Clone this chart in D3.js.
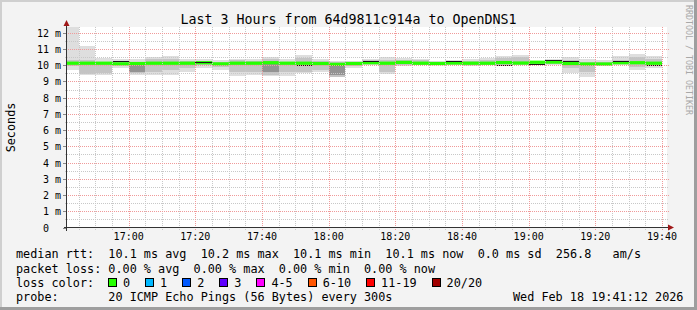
<!DOCTYPE html>
<html>
<head>
<meta charset="utf-8">
<script src="https://cdn.jsdelivr.net/npm/d3@7"></script>
<style>
body { margin: 0; background: #f3f3f3; }
svg { display: block; font-family: "DejaVu Sans Mono", monospace; }
</style>
</head>
<body>
<div id="chart"></div>
<script>

// ---- data (milliseconds), one entry per 5 minute step, labelled by step end ----
var stepEnds = ["16:45","16:50","16:55","17:00","17:05","17:10","17:15","17:20","17:25","17:30","17:35","17:40",
                "17:45","17:50","17:55","18:00","18:05","18:10","18:15","18:20","18:25","18:30","18:35","18:40",
                "18:45","18:50","18:55","19:00","19:05","19:10","19:15","19:20","19:25","19:30","19:35","19:40"];

var medianMs = [10.12,10.12,10.12,10.08,10.10,10.12,10.12,10.12,10.15,10.08,10.12,10.12,
                10.15,10.12,10.12,10.10,10.05,10.10,10.15,10.12,10.17,10.12,10.10,10.13,
                10.12,10.12,10.16,10.13,10.18,10.19,10.10,10.07,10.07,10.15,10.15,10.12];

var smokeMax = [12.40,11.17,10.45,10.35,10.38,10.50,10.55,10.35,10.38,10.30,10.40,10.35,
                10.52,10.35,10.60,10.38,10.28,10.28,10.38,10.50,10.45,10.35,10.25,10.30,
                10.35,10.45,10.55,10.65,10.27,10.37,10.50,10.37,10.30,10.55,10.67,10.55];

var smokeMin = [9.70,9.40,9.40,9.85,9.40,9.40,9.40,9.60,9.85,9.72,9.35,9.40,
                9.32,9.35,9.52,9.56,9.25,9.80,10.02,9.45,9.96,9.98,10.00,10.00,
                9.95,9.98,9.98,9.98,10.00,10.04,9.53,9.28,9.94,10.04,9.70,9.80];

var midHi = [10.33,10.33,10.20,10.20,10.20,10.40,10.35,10.25,10.25,10.22,10.30,10.28,
             10.38,10.20,10.42,10.28,10.20,10.20,10.30,10.32,10.30,10.30,10.20,10.25,
             10.25,10.30,10.42,10.50,10.22,10.30,10.30,10.22,10.20,10.30,10.50,10.35];

var midLo = [9.95,9.45,9.50,10.00,9.50,9.60,9.70,9.85,10.00,9.90,9.60,9.60,
             9.40,9.60,9.60,9.70,9.30,9.95,10.05,9.55,10.02,10.02,10.02,10.05,
             10.00,10.03,10.03,10.04,10.05,10.08,9.80,9.60,10.00,10.08,9.90,9.95];

var coreHi = [null,null,null,null,10.00,null,null,null,null,null,null,null,
              10.05,null,null,null,10.00,null,null,null,null,null,null,null,
              null,null,null,null,null,null,null,null,null,null,null,null];
var coreLo = [null,null,null,null,9.60,null,null,null,null,null,null,null,
              9.55,null,null,null,9.40,null,null,null,null,null,null,null,
              null,null,null,null,null,null,null,null,null,null,null,null];

var darkLine = [null,null,null,10.23,null,null,null,null,10.22,null,null,null,
                null,null,9.99,null,null,null,10.26,null,null,null,null,10.27,
                null,null,10.04,null,10.07,10.30,10.24,null,null,10.25,null,10.03];

var lossLabels = ["0","1","2","3","4-5","6-10","11-19","20/20"];
var lossColors = ["#26ff00","#00b8ff","#0059ff","#5e00ff","#ff00ff","#ff5500","#ff0000","#a10000"];

var legendLines = [
    "median rtt:  10.1 ms avg  10.2 ms max  10.1 ms min  10.1 ms now  0.0 ms sd  256.8   am/s",
    "packet loss: 0.00 % avg  0.00 % max  0.00 % min  0.00 % now",
    "loss color:",
    "probe:       20 ICMP Echo Pings (56 Bytes) every 300s"
];
var stampText = "Wed Feb 18 19:41:12 2026";
var titleText = "Last 3 Hours from 64d9811c914a to OpenDNS1";

// ---- layout ----
var W = 697, H = 310;
var cLeft = 67, cRight = 667, cTop = 27, cBottom = 228;

var parseT = d3.timeParse("%Y-%m-%d %H:%M:%S");
var day = "2026-02-18 ";

var svg = d3.select("#chart").append("svg")
    .attr("width", W)
    .attr("height", H);

// background + frame
svg.append("rect").attr("width", W).attr("height", H).attr("fill", "#f3f3f3");
svg.append("rect").attr("x", 0).attr("y", 0).attr("width", W).attr("height", 2).attr("fill", "#cfcfcf");
svg.append("rect").attr("x", 0).attr("y", 0).attr("width", 2).attr("height", H).attr("fill", "#cfcfcf");
svg.append("rect").attr("x", 0).attr("y", H - 3).attr("width", W).attr("height", 3).attr("fill", "#9e9e9e");
svg.append("rect").attr("x", W - 3).attr("y", 0).attr("width", 3).attr("height", H).attr("fill", "#9e9e9e");

// scales
var x = d3.scaleTime()
    .domain([parseT(day + "16:41:30"), parseT(day + "19:41:30")])
    .range([cLeft, cRight]);

var y = d3.scaleLinear()
    .domain([0, 12.35])
    .range([cBottom - 0.5, cTop]);

// canvas
svg.append("rect")
    .attr("x", cLeft).attr("y", cTop)
    .attr("width", cRight - cLeft).attr("height", cBottom - cTop)
    .attr("fill", "#ffffff");

svg.append("clipPath").attr("id", "canvas-clip")
    .append("rect")
    .attr("x", cLeft).attr("y", cTop)
    .attr("width", cRight - cLeft).attr("height", cBottom - cTop);

var plot = svg.append("g").attr("clip-path", "url(#canvas-clip)");

var bars = stepEnds.map(function(s, i) {
    var t1 = parseT(day + s + ":00");
    var t0 = d3.timeMinute.offset(t1, -5);
    return { i: i, x0: Math.max(x(t0), cLeft), x1: x(t1) };
});

function band(cls, lo, hi, color) {
    plot.selectAll("rect." + cls)
        .data(bars.filter(function(b) { return lo[b.i] != null; }))
        .enter().append("rect")
        .attr("class", cls)
        .attr("x", function(b) { return b.x0; })
        .attr("width", function(b) { return b.x1 - b.x0; })
        .attr("y", function(b) { return y(hi[b.i]); })
        .attr("height", function(b) { return y(lo[b.i]) - y(hi[b.i]); })
        .attr("fill", color)
        .attr("shape-rendering", "crispEdges");
}

// smoke
band("smoke-outer", smokeMin, smokeMax, "#dedede");
band("smoke-mid", midLo, midHi, "#c4c4c4");
band("smoke-core", coreLo, coreHi, "#939393");

// grid
var grid = svg.append("g").attr("shape-rendering", "crispEdges");

var minorTimes = x.ticks(d3.timeMinute.every(5));
var majorTimes = x.ticks(d3.timeMinute.every(20));
var minorVals = d3.range(0.5, 12.35, 1);
var majorVals = d3.range(1, 12.35, 1);

grid.selectAll("line.vminor")
    .data(minorTimes.filter(function(t) { return t.getMinutes() % 20 != 0; }))
    .enter().append("line")
    .attr("class", "vminor")
    .attr("x1", function(t) { return Math.round(x(t)) + 0.5; })
    .attr("x2", function(t) { return Math.round(x(t)) + 0.5; })
    .attr("y1", cTop).attr("y2", cBottom + 2)
    .attr("stroke", "#c8c8c8")
    .attr("stroke-dasharray", "1,1");

grid.selectAll("line.hminor")
    .data(minorVals)
    .enter().append("line")
    .attr("class", "hminor")
    .attr("x1", cLeft - 2).attr("x2", cRight + 2)
    .attr("y1", function(v) { return Math.round(y(v)) + 0.5; })
    .attr("y2", function(v) { return Math.round(y(v)) + 0.5; })
    .attr("stroke", "#c8c8c8")
    .attr("stroke-dasharray", "1,1");

grid.selectAll("line.vmajor")
    .data(majorTimes)
    .enter().append("line")
    .attr("class", "vmajor")
    .attr("x1", function(t) { return Math.round(x(t)) + 0.5; })
    .attr("x2", function(t) { return Math.round(x(t)) + 0.5; })
    .attr("y1", cTop).attr("y2", cBottom + 2)
    .attr("stroke", "#f09a9a")
    .attr("stroke-dasharray", "1,1");

grid.selectAll("line.hmajor")
    .data(majorVals)
    .enter().append("line")
    .attr("class", "hmajor")
    .attr("x1", cLeft - 3).attr("x2", cRight + 2)
    .attr("y1", function(v) { return Math.round(y(v)) + 0.5; })
    .attr("y2", function(v) { return Math.round(y(v)) + 0.5; })
    .attr("stroke", "#f09a9a")
    .attr("stroke-dasharray", "1,1");

// y ticks left of axis
grid.selectAll("line.ytick")
    .data(d3.range(0, 13, 1))
    .enter().append("line")
    .attr("class", "ytick")
    .attr("x1", cLeft - 4).attr("x2", cLeft - 1)
    .attr("y1", function(v) { return Math.round(y(v)) + 0.5; })
    .attr("y2", function(v) { return Math.round(y(v)) + 0.5; })
    .attr("stroke", "#888");

// median line coloured by loss (0 loss -> green)
plot.selectAll("rect.median")
    .data(bars)
    .enter().append("rect")
    .attr("class", "median")
    .attr("x", function(b) { return b.x0; })
    .attr("width", function(b) { return b.x1 - b.x0; })
    .attr("y", function(b) { return y(medianMs[b.i] + 0.1); })
    .attr("height", function(b) { return y(medianMs[b.i] - 0.1) - y(medianMs[b.i] + 0.1); })
    .attr("fill", lossColors[0]);

plot.selectAll("rect.dark")
    .data(bars.filter(function(b) { return darkLine[b.i] != null; }))
    .enter().append("rect")
    .attr("class", "dark")
    .attr("x", function(b) { return b.x0; })
    .attr("width", function(b) { return b.x1 - b.x0; })
    .attr("y", function(b) { return Math.round(y(darkLine[b.i])); })
    .attr("height", 1)
    .attr("fill", "#1a1a1a")
    .attr("shape-rendering", "crispEdges");

// axes
var axes = svg.append("g").attr("shape-rendering", "crispEdges");
axes.append("line")
    .attr("x1", cLeft - 3).attr("x2", cRight + 3)
    .attr("y1", cBottom - 0.5).attr("y2", cBottom - 0.5)
    .attr("stroke", "#333");
axes.append("line")
    .attr("x1", cLeft - 0.5).attr("x2", cLeft - 0.5)
    .attr("y1", cBottom + 3).attr("y2", cTop - 1)
    .attr("stroke", "#333");

svg.append("path")
    .attr("d", "M" + (cRight + 1) + "," + (cBottom - 3.5) + "L" + (cRight + 7) + "," + (cBottom - 0.5) + "L" + (cRight + 1) + "," + (cBottom + 2.5) + "Z")
    .attr("fill", "#a01818");
svg.append("path")
    .attr("d", "M" + (cLeft - 3.5) + "," + (cTop - 1) + "L" + (cLeft - 0.5) + "," + (cTop - 7) + "L" + (cLeft + 2.5) + "," + (cTop - 1) + "Z")
    .attr("fill", "#a01818");

// axis labels
svg.selectAll("text.ylab")
    .data(d3.range(0, 13, 1))
    .enter().append("text")
    .attr("class", "ylab")
    .attr("x", cLeft - 6)
    .attr("y", function(v) { return Math.round(y(v)) + 4; })
    .attr("text-anchor", "end")
    .style("white-space", "pre")
    .attr("font-size", "10px")
    .attr("fill", "#000")
    .text(function(v) { return v == 0 ? "0  " : v + " m"; });

svg.selectAll("text.xlab")
    .data(majorTimes)
    .enter().append("text")
    .attr("class", "xlab")
    .attr("x", function(t) { return x(t); })
    .attr("y", 240)
    .attr("text-anchor", "middle")
    .attr("font-size", "10px")
    .attr("fill", "#000")
    .text(d3.timeFormat("%H:%M"));

svg.append("text")
    .attr("transform", "translate(15," + ((cTop + cBottom) / 2) + ") rotate(-90)")
    .attr("text-anchor", "middle")
    .attr("font-size", "11.8px")
    .attr("fill", "#000")
    .text("Seconds");

svg.append("text")
    .attr("x", W / 2)
    .attr("y", 24)
    .attr("text-anchor", "middle")
    .attr("font-size", "13.3px")
    .attr("fill", "#000")
    .text(titleText);

svg.append("text")
    .attr("transform", "translate(685.5,5) rotate(90)")
    .attr("font-size", "8.3px")
    .attr("fill", "#a8a8a8")
    .text("RRDTOOL / TOBI OETIKER");

// legend
var charW = 7.1;
var lineY = [258.3, 272.5, 286.7, 300.8];
svg.selectAll("text.legend")
    .data(legendLines)
    .enter().append("text")
    .attr("class", "legend")
    .attr("x", 16)
    .attr("y", function(d, i) { return lineY[i]; })
    .style("white-space", "pre")
    .attr("font-size", "11.8px")
    .attr("fill", "#000")
    .text(function(d) { return d; });

svg.append("text")
    .attr("x", 513)
    .attr("y", lineY[3])
    .style("white-space", "pre")
    .attr("font-size", "11.8px")
    .attr("fill", "#000")
    .text(stampText);

var sx = 108;
lossLabels.forEach(function(lab, i) {
    svg.append("rect")
        .attr("x", sx + 0.5).attr("y", 278.5)
        .attr("width", 8).attr("height", 8)
        .attr("fill", lossColors[i])
        .attr("stroke", "#000")
        .attr("shape-rendering", "crispEdges");
    svg.append("text")
        .attr("x", sx + 15)
        .attr("y", lineY[2])
        .attr("font-size", "11.8px")
        .attr("fill", "#000")
        .text(lab);
    sx = sx + 15 + lab.length * charW + 15;
});

</script>
</body>
</html>
